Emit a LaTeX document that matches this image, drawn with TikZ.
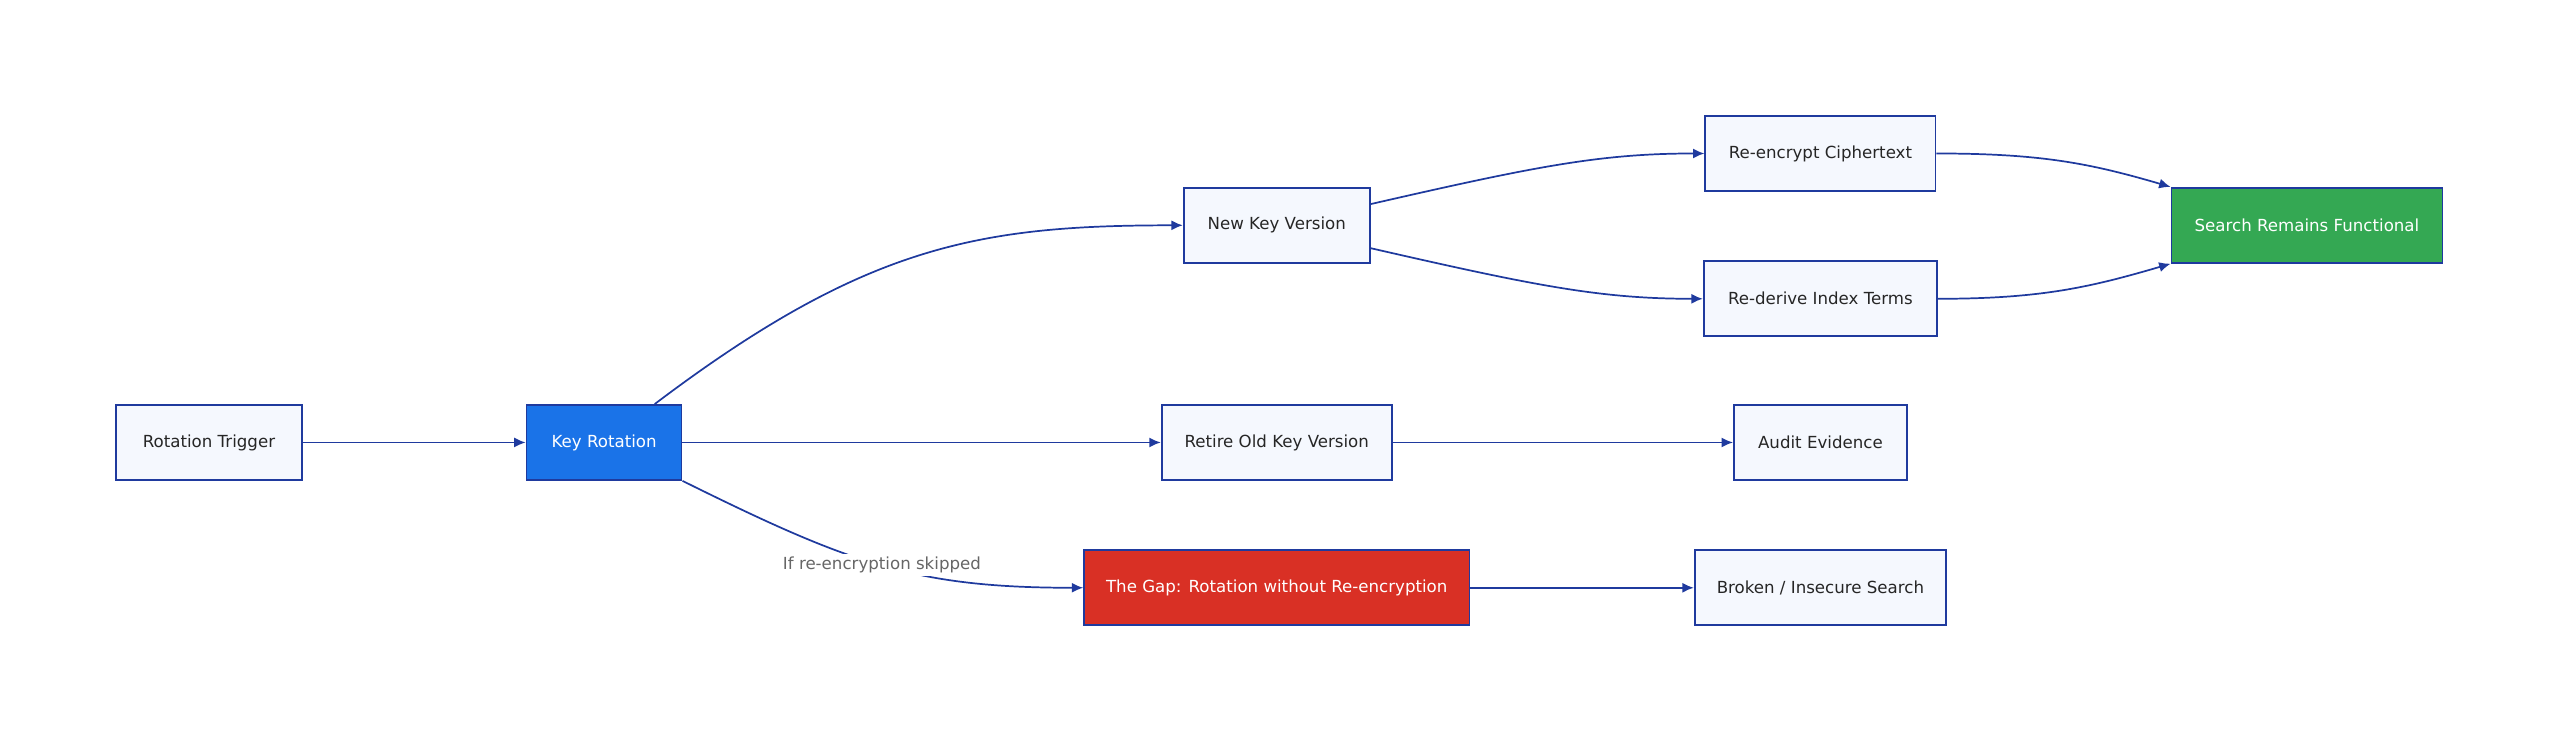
\documentclass[tikz,border=0pt]{standalone}
\usepackage{fontspec}
\setmainfont{DejaVu Sans}
\usetikzlibrary{arrows.meta, positioning}
\definecolor{edgeblue}{HTML}{1F3A9E}
\definecolor{boxfill}{HTML}{F5F8FE}
\definecolor{keyblue}{HTML}{1A73E8}
\definecolor{gapred}{HTML}{D93025}
\definecolor{okgreen}{HTML}{34A853}
\begin{document}
\begin{tikzpicture}[x=0.02cm, y=-0.02cm,
  box/.style = {draw=edgeblue, line width=0.6pt, fill=boxfill, minimum height=0.92cm, inner sep=0pt, font=\fontsize{5.8}{7}\selectfont, text=black!85},
  hot/.style = {box, text=white},
  flow/.style = {draw=edgeblue, line width=0.6pt, -{Latex[length=4pt, width=3.5pt]}}]
\useasboundingbox (0,0) rectangle (1568,454);
\node[box, minimum width=2.28cm] (trig) at (128,271) {Rotation Trigger};
\node[hot, fill=keyblue, minimum width=1.9cm] (rot) at (370,271) {Key Rotation};
\node[box, minimum width=2.28cm] (newkey) at (782,138) {New Key Version};
\node[box, minimum width=2.82cm] (retire) at (782,271) {Retire Old Key Version};
\node[hot, fill=gapred, minimum width=4.72cm] (gap) at (782,360) {The Gap: Rotation without Re-encryption};
\node[box, minimum width=2.82cm] (reenc) at (1115,94) {Re-encrypt Ciphertext};
\node[box, minimum width=2.86cm] (rederive) at (1115,183) {Re-derive Index Terms};
\node[box, minimum width=2.12cm] (audit) at (1115,271) {Audit Evidence};
\node[box, minimum width=3.08cm] (broken) at (1115,360) {Broken / Insecure Search};
\node[hot, fill=okgreen, minimum width=3.32cm] (search) at (1413,138) {Search Remains Functional};

\draw[flow] (trig) -- (rot);
\draw[flow] (rot.north east) ++(-17,0) coordinate (r1) (r1) .. controls (530,150) and (600,138) .. (newkey.west);
\draw[flow] (rot) -- (retire);
\draw[flow] (rot.south east) .. controls (520,345) and (560,360) .. (gap.west)
  node[pos=0.5, fill=white, inner sep=1pt, text=black!60, font=\fontsize{5.8}{7}\selectfont] {If re-encryption skipped};
\draw[flow] (newkey.east) ++(0,-13) coordinate (n1) (n1) .. controls (940,102) and (980,94) .. (reenc.west);
\draw[flow] (newkey.east) ++(0,14) coordinate (n2) (n2) .. controls (940,175) and (980,183) .. (rederive.west);
\draw[flow] (reenc.east) .. controls (1250,94) and (1280,100) .. (search.north west);
\draw[flow] (rederive.east) .. controls (1250,183) and (1280,176) .. (search.south west);
\draw[flow] (retire) -- (audit);
\draw[flow] (gap) -- (broken);
\end{tikzpicture}
\end{document}
